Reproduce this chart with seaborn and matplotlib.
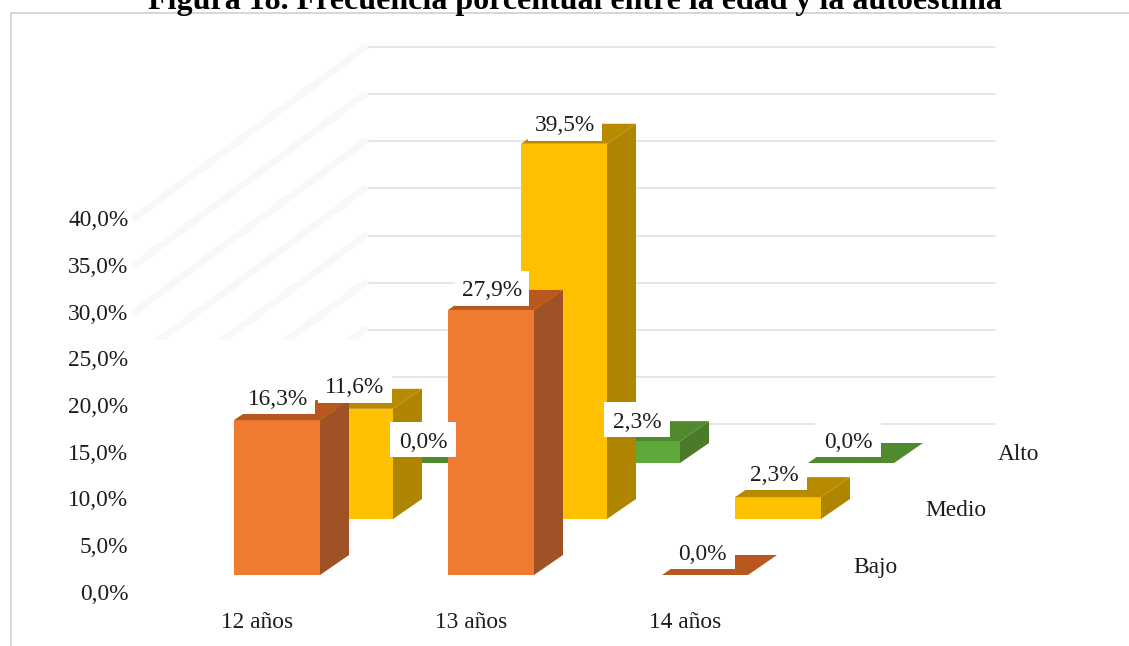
import matplotlib
matplotlib.use("Agg")
import matplotlib.pyplot as plt
from matplotlib.lines import Line2D
from matplotlib.patches import Polygon, Rectangle
from matplotlib.transforms import IdentityTransform
import pandas as pd
import seaborn as sns

# ---- data ----
TITLE = "Figura 18. Frecuencia porcentual entre la edad y la autoestima"
ages = ["12 años", "13 años", "14 años"]
bajo = [16.3, 27.9, 0.0]
medio = [11.6, 39.5, 2.3]
alto = [0.0, 2.3, 0.0]
bajo_labels = ["16,3%", "27,9%", "0,0%"]
medio_labels = ["11,6%", "39,5%", "2,3%"]
alto_labels = ["0,0%", "2,3%", "0,0%"]
y_ticks = [0, 5, 10, 15, 20, 25, 30, 35, 40]
y_tick_labels = ["0,0%", "5,0%", "10,0%", "15,0%", "20,0%", "25,0%", "30,0%", "35,0%", "40,0%"]

# ---- layout (pixels) ----
W, H = 1129, 646
DEPTH_X, DEPTH_Y = 29, 20
PITCH = 214
SCALE = 9.5
FS = 16.8
FONT = ["Liberation Serif", "DejaVu Serif"]
INK = "#1c1c1c"

sns.set_theme(style="white")
plt.rcParams["font.family"] = FONT
fig = plt.figure(figsize=(W / 100, H / 100), dpi=100, facecolor="white")


def ax_px(left, top, right, bottom, z):
    ax = fig.add_axes([left / W, 1 - bottom / H, (right - left) / W, (bottom - top) / H])
    ax.set_zorder(z)
    ax.patch.set_visible(False)
    return ax


# frame
for xs, ys in (([11, 11], [13, 646]), ([11, 1129], [13, 13])):
    fig.add_artist(Line2D([x / W for x in xs], [1 - y / H for y in ys], color="#d6d6d6", lw=1.4))

# back wall with its gridlines
wall = ax_px(365, 47, 995, 424, 0)
wall.set_ylim(0, 40)
wall.set_xlim(0, 1)
wall.set_yticks(y_ticks)
wall.set_xticks([])
wall.yaxis.grid(True, color="#dfdfdf", lw=1.1, clip_on=False)
wall.tick_params(left=False, labelleft=False)
sns.despine(ax=wall, left=True, bottom=True)

# value and category axis
scale_ax = ax_px(150, 218, 792, 592, 0)
scale_ax.set_ylim(0, 40)
scale_ax.set_xlim(-0.5, 2.5)
scale_ax.set_yticks(y_ticks, y_tick_labels)
scale_ax.set_xticks(range(len(ages)), ages)
scale_ax.tick_params(axis="y", length=0, pad=15.5, labelsize=FS, labelcolor=INK)
scale_ax.tick_params(axis="x", length=0, pad=14.5, labelsize=FS, labelcolor=INK)
sns.despine(ax=scale_ax, left=True, bottom=True)

# faint side wall lines
clip = Rectangle((130, H - 340), 240, 340, transform=IdentityTransform())
for t in y_ticks:
    a = scale_ax.transData.transform((-0.5, t))
    b = wall.transData.transform((0, t))
    a = (a[0] - 15, a[1])
    ln = Line2D([a[0], b[0]], [a[1], b[1]], color="#f8f8f8", lw=5, transform=IdentityTransform())
    ln.set_clip_path(clip)
    fig.add_artist(ln)

# three depth rows of bars
series = [
    ("Alto", alto, alto_labels, 146, -112, "#5FA83A", "#4B7A2B", "#4F8A2E", 3, (1019, 455)),
    ("Medio", medio, medio_labels, 73, -56, "#FFC000", "#AF8400", "#B88A00", 4, (956, 511)),
    ("Bajo", bajo, bajo_labels, 0, 0, "#EE7B30", "#9E5225", "#B9581E", 5, (875, 567)),
]
rows = []
for name, vals, labs, dx, dy, front, side, top, z, name_xy in series:
    left = 277 - PITCH / 2 + dx
    baseline = 575 + dy
    ax = ax_px(left, baseline - 40 * SCALE, left + 3 * PITCH, baseline, z)
    df = pd.DataFrame({"edad": ages, "valor": vals})
    sns.barplot(data=df, x="edad", y="valor", color=front, saturation=1, width=86 / PITCH,
                ax=ax, order=ages, linewidth=0, errorbar=None)
    ax.set_xlim(-0.5, 2.5)
    ax.set_ylim(0, 40)
    ddx, ddy = DEPTH_X / PITCH, DEPTH_Y / SCALE
    for bar in ax.patches:
        x0, w, v = bar.get_x(), bar.get_width(), bar.get_height()
        x1 = x0 + w
        ax.add_patch(Polygon([(x1, 0), (x1 + ddx, ddy), (x1 + ddx, v + ddy), (x1, v)],
                             facecolor=side, edgecolor="none", clip_on=False, zorder=2))
        ax.add_patch(Polygon([(x0, v), (x0 + ddx, v + ddy), (x1 + ddx, v + ddy), (x1, v)],
                             facecolor=top, edgecolor="none", clip_on=False, zorder=2))
    ax.set_axis_off()
    rows.append((ax, vals, labs))
    fig.text(name_xy[0] / W, 1 - name_xy[1] / H, name, ha="center", va="center",
             fontsize=FS, color=INK, family=FONT)

# data labels above all bars, each on its white plate
top_ax = ax_px(0, 0, W, H, 10)
top_ax.set_xlim(0, W)
top_ax.set_ylim(0, H)
top_ax.set_axis_off()
nudges = {
    0: [(0, 21), (0, 19), (-3, 21)],
    1: [(5, 21), (1, 18), (-4, 22)],
    2: [(1, 21), (1, 19), (-3, 21)],
}
z = 1
for r, (ax, vals, labs) in enumerate(rows):
    for i, (v, lab) in enumerate(zip(vals, labs)):
        px, py = ax.transData.transform((i, v))
        px, py = px + nudges[r][i][0], py + nudges[r][i][1]
        half = 37 if len(lab) == 5 else 33
        top_ax.add_patch(Rectangle((px - half, py - 15), 2 * half, 35, facecolor="white",
                                   edgecolor="none", zorder=z))
        top_ax.text(px, py, lab, ha="center", va="center", fontsize=FS, color=INK, zorder=z + 1)
        z += 2

# title cut by the upper edge, as in the source
fig.text(575 / W, 1 - 9 / H, TITLE, ha="center", va="baseline", fontsize=23,
         fontweight="bold", color="black", family=FONT)

fig.savefig("out.png", dpi=100)
